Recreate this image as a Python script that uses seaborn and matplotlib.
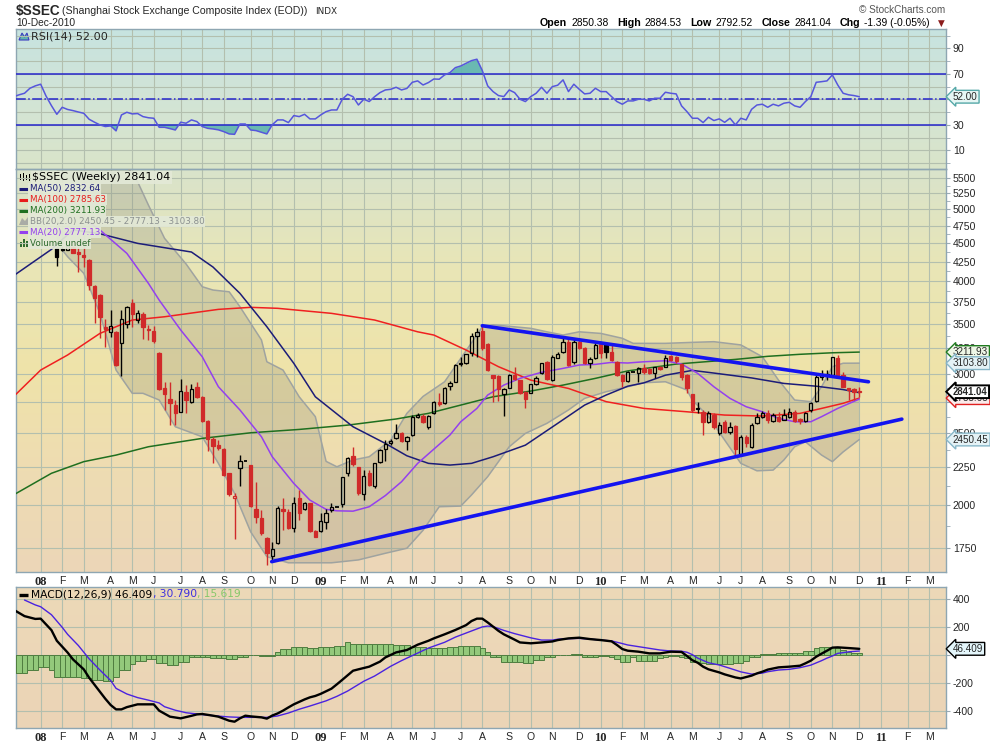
import numpy as np
import pandas as pd
import matplotlib
matplotlib.use("Agg")
import matplotlib.pyplot as plt
import matplotlib.ticker as mticker
from matplotlib.colors import LinearSegmentedColormap
from matplotlib.patches import Polygon, Rectangle
from matplotlib.lines import Line2D
from matplotlib.offsetbox import TextArea, HPacker, AnnotationBbox
import seaborn as sns

sns.set_style("white")
plt.rcParams["font.family"] = ["DejaVu Sans"]

# ------------------------------------------------------------------ data
WEEK0 = pd.Timestamp("2008-01-04")          # week number 0 = week ending 4-Jan-2008
candle_dates = pd.date_range("2008-02-01", "2010-12-10", freq="W-FRI")

opens = [4428, 4425, 4410, 4442, 4383, 4338, 4271, 3941, 3833, 3469,
         3416, 3423, 3300, 3500, 3744, 3547, 3614, 3452, 3430, 3206,
         2871, 2777, 2726, 2671, 2836, 2755, 2886, 2792, 2597, 2453,
         2408, 2378, 2207, 2045, 2241, 2293, 2264, 1975, 1919, 1804,
         1711, 1780, 1975, 1955, 1862, 2045, 1975, 2011, 1846, 1846,
         1896, 1969, 1990, 2005, 2207, 2328, 2248, 2067, 2207, 2120,
         2283, 2378, 2422, 2463, 2497, 2440, 2483, 2630, 2637, 2544,
         2657, 2749, 2740, 2894, 2930, 3093, 3102, 3199, 3377, 3431,
         3290, 2992, 2983, 2817, 2876, 2992, 2945, 2840, 2834, 2910,
         3008, 3118, 2945, 3157, 3208, 3318, 3111, 3318, 3249, 3102,
         3152, 3293, 3290, 3215, 3119, 2994, 2935, 3018, 3013, 3054,
         3045, 3007, 3070, 3070, 3170, 3165, 3096, 2992, 2820, 2700,
         2670, 2589, 2643, 2500, 2589, 2510, 2553, 2346, 2472, 2395,
         2576, 2629, 2662, 2597, 2629, 2605, 2629, 2670, 2607, 2597,
         2684, 2757, 2976, 2990, 2992, 3155, 2992, 2870, 2862, 2850.38]
highs = [4440, 4440, 4480, 4450, 4451, 4451, 4280, 3950, 3840, 3554,
         3658, 3430, 3658, 3700, 3786, 3658, 3632, 3493, 3477, 3210,
         2931, 2931, 2769, 2955, 2901, 2910, 2925, 2800, 2600, 2473,
         2445, 2385, 2210, 2075, 2333, 2293, 2264, 2146, 1969, 1810,
         1785, 1993, 2045, 1975, 2051, 2094, 2020, 2015, 1850, 1950,
         1974, 2013, 1990, 2185, 2320, 2397, 2250, 2230, 2230, 2280,
         2381, 2450, 2455, 2574, 2505, 2480, 2641, 2660, 2655, 2640,
         2760, 2826, 2880, 2940, 3095, 3166, 3195, 3404, 3457, 3478,
         3300, 2995, 2990, 2870, 3000, 3070, 2950, 2845, 2910, 2980,
         3110, 3125, 3180, 3210, 3352, 3352, 3344, 3335, 3265, 3160,
         3300, 3310, 3300, 3282, 3125, 3000, 3025, 3018, 3070, 3100,
         3060, 3070, 3080, 3180, 3180, 3175, 3100, 3000, 2825, 2750,
         2684, 2675, 2656, 2586, 2602, 2586, 2560, 2485, 2485, 2575,
         2656, 2678, 2684, 2656, 2670, 2690, 2698, 2684, 2616, 2670,
         2755, 2992, 3040, 3040, 3165, 3186, 3023, 2872, 2870, 2884.53]
lows = [4197, 4395, 4400, 4360, 4120, 4184, 3893, 3511, 3351, 3266,
        3369, 3080, 2986, 3457, 3475, 3511, 3344, 3334, 3300, 2855,
        2684, 2562, 2562, 2665, 2657, 2741, 2790, 2585, 2366, 2280,
        2370, 2190, 2056, 1802, 2120, 2293, 1990, 1891, 1823, 1664,
        1679, 1775, 1852, 1860, 1839, 1910, 1970, 1840, 1810, 1842,
        1857, 1955, 1990, 1990, 2190, 2260, 2063, 2035, 2120, 2110,
        2280, 2295, 2410, 2455, 2430, 2371, 2480, 2620, 2575, 2530,
        2650, 2720, 2735, 2860, 2925, 3080, 3095, 3170, 3166, 3232,
        3030, 2754, 2760, 2639, 2870, 2950, 2820, 2698, 2830, 2900,
        3000, 2950, 2935, 3150, 3200, 3080, 3100, 3240, 3095, 3054,
        3145, 3150, 3150, 3120, 2980, 2886, 2925, 3018, 2930, 3003,
        3000, 2960, 3040, 3065, 3120, 3110, 2946, 2826, 2670, 2656,
        2485, 2580, 2535, 2485, 2500, 2496, 2319, 2334, 2395, 2390,
        2570, 2620, 2576, 2589, 2590, 2600, 2616, 2589, 2570, 2589,
        2670, 2750, 2950, 2950, 2985, 2960, 2880, 2768, 2768, 2792.52]
closes = [4316, 4410, 4460, 4369, 4350, 4307, 3953, 3794, 3576, 3448,
          3487, 3086, 3554, 3689, 3614, 3621, 3466, 3441, 3328, 2865,
          2821, 2740, 2662, 2851, 2769, 2863, 2798, 2594, 2451, 2403,
          2388, 2195, 2067, 2060, 2293, 2293, 1995, 1925, 1833, 1727,
          1745, 1985, 1965, 1866, 2015, 1950, 2013, 1846, 1813, 1904,
          1950, 1990, 1990, 2180, 2316, 2268, 2078, 2192, 2128, 2276,
          2371, 2415, 2440, 2504, 2440, 2470, 2624, 2646, 2584, 2635,
          2749, 2732, 2876, 2921, 3086, 3108, 3189, 3380, 3414, 3256,
          3038, 2961, 2864, 2868, 2992, 2955, 2826, 2776, 2906, 2960,
          3102, 2955, 3166, 3189, 3311, 3086, 3318, 3249, 3102, 3141,
          3283, 3205, 3215, 3130, 2994, 2935, 3018, 3018, 3054, 3023,
          3010, 3063, 3044, 3158, 3130, 3128, 2977, 2870, 2685, 2690,
          2589, 2656, 2548, 2566, 2510, 2548, 2383, 2466, 2424, 2566,
          2629, 2656, 2602, 2643, 2597, 2640, 2670, 2594, 2592, 2662,
          2746, 2976, 2992, 3005, 3159, 2985, 2886, 2854, 2842.43, 2841.04]

# moving averages / Bollinger bands: (week number, value)
ma20_wk = [10, 12, 17, 21, 23, 27, 31, 34, 38, 42, 44, 48, 51, 54, 56, 59, 62, 65, 68, 71,
           77, 79, 82, 84, 87, 90, 94, 98, 101, 104, 107, 110, 113, 117, 120, 123, 126, 129,
           132, 135, 138, 141, 144, 146, 149, 153]
ma20 = [4800, 4687, 4360, 3974, 3773, 3439, 3166, 2885, 2685, 2471, 2323, 2139, 2031, 1974,
        1965, 1963, 1990, 2060, 2150, 2276, 2485, 2589, 2698, 2812, 2900, 2961, 3017, 3054,
        3086, 3092, 3111, 3105, 3117, 3127, 3095, 3007, 2885, 2783, 2712, 2670, 2616, 2589,
        2589, 2630, 2698, 2777.13]
ma50_wk = [-4, 3, 7, 12, 19, 29, 33, 38, 43, 48, 52, 59, 65, 69, 73, 77, 81, 85, 91, 97,
           102, 106, 110, 113, 117, 122, 126, 133, 139, 145, 150, 153]
ma50 = [4070, 4414, 4690, 4633, 4497, 4378, 4179, 3852, 3474, 3102, 2797, 2549, 2421, 2330,
        2276, 2264, 2276, 2323, 2408, 2576, 2726, 2812, 2890, 2920, 2990, 3035, 3010, 2965,
        2915, 2890, 2860, 2832.64]
ma100_wk = [-4, 1, 6, 12, 18, 24, 34, 40, 45, 55, 63, 71, 74, 80, 86, 92, 99, 106, 113, 121,
            128, 135, 142, 146, 150, 153]
ma100 = [2800, 3038, 3183, 3403, 3547, 3583, 3666, 3689, 3678, 3621, 3547, 3420, 3386, 3232,
         3070, 2945, 2870, 2755, 2698, 2670, 2643, 2635, 2657, 2698, 2741, 2785.63]
ma200_wk = [-4, 3, 9, 15, 21, 31, 40, 49, 58, 67, 73, 79, 85, 92, 98, 104, 110, 119, 130, 136,
            142, 148, 153]
ma200 = [2065, 2207, 2288, 2335, 2396, 2459, 2502, 2528, 2562, 2611, 2657, 2726, 2797, 2847,
         2900, 2961, 3030, 3095, 3140, 3170, 3190, 3205, 3211.93]
bb_up_wk = [4, 15, 19, 21, 24, 28, 31, 33, 36, 38, 42, 43, 46, 49, 52, 54, 56, 59, 62, 66,
            69, 72, 76, 79, 82, 83, 85, 92, 95, 98, 101, 105, 109, 111, 117, 122, 126, 131,
            135, 138, 141, 144, 146, 148, 150, 153]
bb_up = [6000, 6000, 5442, 5064, 4568, 4219, 3932, 3892, 3871, 3696, 3334, 3117, 3038, 2797,
         2630, 2290, 2252, 2300, 2323, 2446, 2657, 2800, 2930, 3150, 3386, 3474, 3495, 3457,
         3420, 3386, 3420, 3403, 3352, 3300, 3300, 3310, 3317, 3284, 3166, 2945, 2769, 2755,
         2885, 3070, 3103, 3103.80]
bb_lo_wk = [4, 6, 9, 12, 15, 18, 20, 23, 26, 31, 34, 37, 40, 43, 47, 55, 60, 65, 69, 72,
            75, 79, 81, 84, 88, 91, 95, 99, 102, 106, 110, 113, 117, 121, 122, 125, 128, 131,
            134, 137, 139, 141, 143, 146, 148, 150, 153]
bb_lo = [4500, 4315, 4099, 3621, 3038, 2827, 2827, 2769, 2549, 2471, 2276, 2074, 1841, 1705,
         1673, 1673, 1688, 1723, 1750, 1850, 1990, 1994, 2064, 2184, 2396, 2497, 2576, 2685,
         2783, 2841, 2885, 2921, 2930, 2856, 2769, 2630, 2446, 2276, 2224, 2229, 2300, 2396,
         2433, 2335, 2288, 2358, 2450.45]

# hand-drawn trend lines (week number, price)
trend_hi_wk = [83, 154.7]
trend_hi = [3485, 2930]
trend_lo_wk = [43.9, 160.9]
trend_lo = [1679, 2610]

# RSI(14), weekly from week -4 to week 153
rsi = [52.0, 53.5, 54.7, 58.6, 60.5, 61.8, 52.5, 45.0, 38.2, 43.7,
       42.0, 41.1, 40.0, 39.0, 34.3, 32.0, 29.9, 28.6, 29.1, 25.2,
       37.7, 39.8, 38.5, 38.8, 36.4, 35.5, 35.1, 28.0, 28.0, 27.0,
       25.9, 32.0, 31.2, 33.8, 32.5, 28.6, 27.2, 26.7, 26.0, 24.6,
       22.8, 22.5, 30.6, 30.6, 25.9, 25.4, 24.1, 22.8, 30.0, 33.8,
       33.8, 31.7, 37.2, 36.4, 38.2, 34.6, 34.6, 37.7, 40.3, 41.6,
       41.6, 50.0, 53.9, 52.0, 45.5, 50.0, 48.2, 52.0, 55.2, 57.3,
       57.8, 59.4, 57.3, 58.5, 63.3, 64.4, 61.2, 63.1, 65.9, 65.7,
       69.1, 70.9, 74.8, 76.1, 78.2, 80.3, 81.4, 72.5, 60.5, 56.0,
       52.9, 52.1, 57.3, 55.2, 50.0, 48.2, 52.1, 54.7, 59.4, 54.7,
       59.9, 61.0, 65.2, 56.0, 61.8, 57.8, 54.2, 54.7, 58.6, 56.0,
       56.0, 52.1, 48.2, 46.1, 48.7, 48.7, 50.0, 50.0, 48.7, 50.8,
       50.8, 55.5, 54.7, 54.2, 44.8, 40.3, 35.1, 35.1, 31.7, 35.9,
       33.3, 34.6, 31.9, 35.1, 29.9, 35.1, 33.8, 42.1, 45.5, 46.1,
       43.7, 46.1, 44.8, 46.9, 47.6, 44.8, 43.7, 48.2, 52.1, 63.3,
       63.8, 64.4, 69.1, 61.2, 54.7, 53.5, 52.9, 52.0]
rsi_first_week = -4

# MACD(12,26,9)
macd_wk = [-4, -2, 0, 1, 3, 4, 6, 7, 9, 10, 11, 13, 14, 15, 16, 17, 19, 22, 23, 25,
           27, 29, 30, 31, 33, 34, 36, 37, 38, 39, 40, 42, 43, 44, 45, 46, 47, 48, 50, 51,
           52, 53, 55, 56, 57, 59, 60, 62, 64, 65, 67, 69, 71, 73, 74, 76, 78, 80, 81, 82,
           83, 84, 86, 87, 89, 90, 92, 94, 96, 97, 99, 101, 103, 105, 107, 108, 109, 110, 112, 114,
           116, 118, 120, 121, 122, 123, 124, 125, 127, 128, 130, 131, 133, 134, 135, 136, 138, 140, 142, 143,
           144, 145, 146, 147, 148, 149, 151, 153]
macd = [325, 280, 260, 262, 180, 104, 20, -29, -100, -160, -210, -310, -355, -386, -386, -370, -350, -350, -395, -438,
        -450, -432, -422, -419, -431, -438, -467, -474, -450, -431, -436, -443, -452, -430, -415, -395, -372, -350, -315, -300,
        -290, -275, -238, -207, -175, -110, -100, -81, -45, -15, 21, 38, 76, 104, 121, 150, 181, 216, 245, 262,
        262, 235, 175, 150, 112, 92, 86, 92, 99, 109, 121, 126, 116, 109, 100, 74, 45, 33, 26, 14,
        14, 26, 24, -5, -35, -53, -81, -100, -122, -136, -158, -165, -145, -129, -117, -102, -86, -81, -74, -57,
        -38, -10, 12, 33, 55, 57, 52, 46.409]
signal_wk = [-2, 0, 1, 3, 5, 6, 8, 10, 12, 14, 15, 17, 19, 21, 23, 24, 26, 28, 31, 33,
             36, 38, 43, 45, 47, 49, 51, 54, 56, 58, 61, 63, 66, 68, 71, 73, 76, 78, 81, 83,
             84, 85, 87, 89, 92, 94, 96, 97, 99, 101, 103, 105, 107, 109, 110, 112, 114, 116, 118, 120,
             121, 122, 123, 125, 127, 129, 131, 133, 135, 136, 138, 140, 142, 144, 146, 147, 148, 149, 150, 151,
             153]
signal = [395, 360, 347, 290, 200, 150, 70, -25, -105, -180, -236, -276, -302, -320, -340, -367, -392, -410, -423, -431,
          -440, -443, -443, -433, -412, -385, -362, -325, -293, -255, -185, -148, -78, -38, 16, 52, 93, 130, 174, 203,
          209, 205, 178, 155, 125, 109, 109, 115, 119, 121, 116, 109, 103, 84, 74, 62, 50, 38, 31, 29,
          22, 5, -20, -53, -69, -93, -118, -134, -127, -117, -105, -100, -88, -70, -38, -20, -5, 14, 19, 25,
          30.79]
hist = [-129, -129, -129, -105, -105, -81, -81, -105, -157, -157,
        -157, -157, -157, -164, -164, -176, -176, -183, -183, -153,
        -105, -105, -65, -38, -38, -29, -29, -57, -57, -69,
        -69, -45, -45, -14, -14, -10, -10, -22, -22, -22,
        -29, -29, -14, -14, 2, 2, -5, -5, -5, 26,
        43, 43, 62, 62, 62, 50, 50, 57, 57, 57,
        67, 67, 97, 81, 81, 81, 81, 81, 81, 81,
        81, 74, 74, 74, 62, 62, 57, 50, 50, 50,
        50, 62, 62, 67, 67, 67, 67, 50, 26, -14,
        -14, -45, -45, -45, -45, -57, -57, -33, -33, -14,
        -14, 2, 2, 2, 10, 10, -14, -14, -14, -5,
        -5, -14, -29, -45, -45, -10, -38, -38, -38, -38,
        -22, -14, -5, -5, -14, -22, -45, -45, -53, -62,
        -62, -62, -62, -62, -53, -53, -38, -14, -14, 10,
        10, 10, 19, 19, 19, 19, 19, 33, 33, 50,
        62, 62, 62, 50, 38, 26, 19, 15.619]
hist_first_week = -4

month_letters = ["J", "F", "M", "A", "M", "J", "J", "A", "S", "O", "N", "D"]

# ------------------------------------------------------------------ layout
W, H = 990, 744
fig = plt.figure(figsize=(W / 100, H / 100), dpi=100)
fig.patch.set_facecolor("white")


def rect(l, t, r, b):
    return [l / W, 1 - b / H, (r - l) / W, (b - t) / H]


def ftext(px, py, s, **kw):
    kw.setdefault("va", "center")
    return fig.text(px / W, 1 - py / H, s, parse_math=False, **kw)


R_RSI = rect(16, 29, 946, 169)
R_MAIN = rect(16, 169, 946, 572)
R_MACD = rect(16, 587, 946, 728)


def background(r, colors):
    a = fig.add_axes(r, zorder=0)
    cmap = LinearSegmentedColormap.from_list("bg", colors)
    a.imshow(np.linspace(0, 1, 256).reshape(-1, 1), cmap=cmap, aspect="auto",
             extent=[0, 1, 0, 1], origin="upper")
    a.set_axis_off()


background(R_RSI, ["#c7e3e0", "#d2e4d6", "#dae5c9"])
background(R_MAIN, ["#d9e3cb", "#e9e6b6", "#efe3a9", "#eedcb2", "#ecd6b8"])
background(R_MACD, ["#edd9b8", "#ebd4b6"])

ax_r = fig.add_axes(R_RSI, zorder=1)
ax_m = fig.add_axes(R_MAIN, zorder=1)
ax_d = fig.add_axes(R_MACD, zorder=1)

GRID = "#b3bfae"
SPINE = "#8ea6b2"
RED = "#d02a2a"
XL = (-3.58, 169.1)

# month ticks: week containing the first Monday of each month
months = pd.date_range("2008-01-01", "2011-03-01", freq="MS")
tick_pos, tick_lab = [], []
for m in months:
    monday = m + pd.Timedelta(days=(7 - m.weekday()) % 7)
    tick_pos.append((monday + pd.Timedelta(days=4) - WEEK0).days / 7)
    tick_lab.append(m.strftime("%y") if m.month == 1 else month_letters[m.month - 1])

for ax in (ax_r, ax_m, ax_d):
    ax.patch.set_alpha(0)
    ax.set_xlim(*XL)
    ax.set_xticks(tick_pos)
    ax.set_axisbelow(True)
    ax.grid(True, axis="x", color=GRID, lw=0.8)
    ax.grid(True, axis="y", which="both", color=GRID, lw=0.8)
    ax.yaxis.tick_right()
    ax.tick_params(axis="y", which="both", direction="out", length=3, color="#9aaab4",
                   labelsize=7.6, pad=2, labelfontfamily="Liberation Sans")
    ax.tick_params(axis="x", length=0, pad=3.2, labelsize=7.6)
    for s in ax.spines.values():
        s.set_color(SPINE)
        s.set_linewidth(1)

ax_r.tick_params(axis="x", labelbottom=False)
for ax in (ax_m, ax_d):
    ax.set_xticklabels(tick_lab)
    for t, lab in zip(ax.get_xticklabels(), tick_lab):
        if lab.isdigit():
            t.set_fontfamily("Liberation Serif")
            t.set_fontweight("bold")
            t.set_fontsize(9)
        else:
            t.set_fontfamily("Liberation Sans")


def hide_label(values):
    return mticker.FuncFormatter(lambda v, p: "" if any(abs(v - h) < 1e-6 for h in values) else f"{v:.0f}")


# ------------------------------------------------------------------ RSI panel
rsi_x = np.arange(rsi_first_week, rsi_first_week + len(rsi))
rsi_v = np.asarray(rsi, dtype=float)
ax_r.fill_between(rsi_x, rsi_v, 30, where=rsi_v < 30, interpolate=True,
                  color="#5fb5ae", alpha=0.9, lw=0, zorder=2)
ax_r.fill_between(rsi_x, rsi_v, 70, where=rsi_v > 70, interpolate=True,
                  color="#5fb5ae", alpha=0.9, lw=0, zorder=2)
for lvl, ls in ((70, "-"), (30, "-"), (50, "-.")):
    ax_r.axhline(lvl, color="#2626cc", lw=1.1, ls=ls, zorder=3)
sns.lineplot(x=rsi_x, y=rsi_v, ax=ax_r, color="#5656dc", lw=1.1, zorder=4, estimator=None)
ax_r.set_ylim(-4.7, 105.1)
ax_r.set_yticks([10, 30, 50, 70, 90])
ax_r.yaxis.set_major_formatter(hide_label([50]))
ax_r.set_yticks(np.arange(0, 101, 10), minor=True)
ax_r.yaxis.set_minor_formatter(mticker.NullFormatter())

# ------------------------------------------------------------------ price panel
ax_m.set_yscale("log")
band = list(zip(bb_up_wk, bb_up)) + list(zip(bb_lo_wk[::-1], bb_lo[::-1]))
ax_m.add_patch(Polygon(band, closed=True, fc="#8c8a78", alpha=0.26, ec="none", zorder=2))
sns.lineplot(x=bb_up_wk, y=bb_up, ax=ax_m, color="#9fa3a0", lw=1.1, zorder=3, estimator=None)
sns.lineplot(x=bb_lo_wk, y=bb_lo, ax=ax_m, color="#9fa3a0", lw=1.1, zorder=3, estimator=None)
sns.lineplot(x=ma200_wk, y=ma200, ax=ax_m, color="#1f6f1f", lw=1.1, zorder=4, estimator=None)
sns.lineplot(x=ma100_wk, y=ma100, ax=ax_m, color="#f02020", lw=1.1, zorder=4, estimator=None)
sns.lineplot(x=ma50_wk, y=ma50, ax=ax_m, color="#1c1c78", lw=1.1, zorder=4, estimator=None)
sns.lineplot(x=ma20_wk, y=ma20, ax=ax_m, color="#9440ee", lw=1.1, zorder=4, estimator=None)

cx = np.array([(d - WEEK0).days / 7 for d in candle_dates])
O, Hh, L, C = (np.asarray(a, dtype=float) for a in (opens, highs, lows, closes))
prev = np.r_[C[0], C[:-1]]
col = np.where(C < prev, RED, "black")
top, bot = np.maximum(O, C), np.minimum(O, C)
ax_m.vlines(cx, top, Hh, colors=col, lw=1, zorder=5)
ax_m.vlines(cx, L, bot, colors=col, lw=1, zorder=5)
flat = np.isclose(O, C)
body = ~flat
face = np.where(C > O, "none", col)
ax_m.bar(cx[body], (top - bot)[body], bottom=bot[body], width=0.62,
         color=list(face[body]), edgecolor=list(col[body]), lw=0.9, zorder=6)
ax_m.hlines(C[flat], cx[flat] - 0.33, cx[flat] + 0.33, colors=list(col[flat]), lw=1.3, zorder=6)

sns.lineplot(x=trend_hi_wk, y=trend_hi, ax=ax_m, color="#1414f0", lw=2.6, zorder=7, estimator=None)
sns.lineplot(x=trend_lo_wk, y=trend_lo, ax=ax_m, color="#1414f0", lw=2.6, zorder=7, estimator=None)

ax_m.set_ylim(1626, 5661)
yt = [1750, 2000, 2250, 2500, 2750, 3000, 3250, 3500, 3750, 4000, 4250, 4500, 4750, 5000, 5250, 5500]
ax_m.yaxis.set_major_locator(mticker.FixedLocator(yt))
ax_m.yaxis.set_major_formatter(hide_label([2750]))
ax_m.yaxis.set_minor_locator(mticker.FixedLocator([v + 125 for v in yt[:-1]]))
ax_m.yaxis.set_minor_formatter(mticker.NullFormatter())
ax_m.grid(False, which="minor")
ax_m.grid(True, axis="y", which="major", color=GRID, lw=0.8)

# ------------------------------------------------------------------ MACD panel
hx = np.arange(hist_first_week, hist_first_week + len(hist))
ax_d.bar(hx, hist, width=1.0, color="#93c97b", edgecolor="#4f7d40", lw=0.7, zorder=3)
sns.lineplot(x=signal_wk, y=signal, ax=ax_d, color="#4a22e0", lw=1.0, zorder=4, estimator=None)
sns.lineplot(x=macd_wk, y=macd, ax=ax_d, color="black", lw=1.7, zorder=5, estimator=None)
ax_d.set_ylim(-519, 488)
ax_d.set_yticks([-400, -200, 0, 200, 400])
ax_d.yaxis.set_major_formatter(hide_label([0]))

for ax in (ax_r, ax_m, ax_d):
    ax.set_xlabel("")
    ax.set_ylabel("")
    ax.set_xlim(*XL)


# ------------------------------------------------------------------ value tags
def tag(ax, y, s, ec, fc, bold=False, z=10, lw=1.0, size=7.1):
    ax.annotate(s, xy=(1, y), xycoords=ax.get_yaxis_transform(), xytext=(5.0, 0),
                textcoords="offset points", ha="left", va="center", fontsize=size,
                family="Liberation Sans", fontweight="bold" if bold else "normal",
                bbox=dict(boxstyle="larrow,pad=0.14", fc=fc, ec=ec, lw=lw),
                zorder=z, annotation_clip=False)


tag(ax_r, rsi[-1], f"{rsi[-1]:.2f}", "#55a8a8", "#e6f6f4")
tag(ax_m, ma200[-1], f"{ma200[-1]:.2f}", "#1f7a1f", "#eef6e6")
tag(ax_m, bb_up[-1], f"{bb_up[-1]:.2f}", "#86b6c8", "#e4f2f6")
tag(ax_m, ma100[-1], f"{ma100[-1]:.2f}", "#e02020", "#fbeaea", z=10)
tag(ax_m, closes[-1], f"{closes[-1]:.2f}", "black", "white", bold=True, z=11, lw=1.4, size=6.9)
tag(ax_m, bb_lo[-1], f"{bb_lo[-1]:.2f}", "#86b6c8", "#e4f2f6")
tag(ax_d, macd[-1], f"{macd[-1]:.3f}", "black", "#e4f6fb")

# ------------------------------------------------------------------ header texts
ftext(16, 10.5, "$SSEC", size=9.8, weight="bold", family="Liberation Sans")
ftext(62, 11, "(Shanghai Stock Exchange Composite Index (EOD))", size=7.6, family="Liberation Sans")
ftext(315, 11, "INDX", size=6.4)
ftext(16, 23.5, "10-Dec-2010", size=7.4, family="Liberation Sans")
ftext(945, 10, "\u00a9 StockCharts.com", size=7.2, color="#555555", ha="right", family="Liberation Sans")


def ta(s, bold=False, color="black", size=7.7, family="Liberation Sans"):
    return TextArea(s, textprops=dict(fontsize=size, fontweight="bold" if bold else "normal",
                                      color=color, family=family))


groups = []
for lab, val in (("Open", "2850.38"), ("High", "2884.53"), ("Low", "2792.52"),
                 ("Close", "2841.04"), ("Chg", "-1.39 (-0.05%)")):
    groups.append(HPacker(children=[ta(lab, True), ta(val, size=7.4)], align="baseline", pad=0, sep=3))
groups.append(ta("\u25bc", color="#8b1c1c", size=6.3, family="DejaVu Sans"))
hdr = HPacker(children=groups, align="baseline", pad=0, sep=6)
fig.add_artist(AnnotationBbox(hdr, (945 / W, 1 - 23 / H), xycoords="figure fraction",
                              box_alignment=(1, 0.5), frameon=False, pad=0))

# ------------------------------------------------------------------ panel legends
LEG_BG = dict(boxstyle="square,pad=0.12", fc="#e3e9d7", ec="none", alpha=0.92)


def fig_line(x0, x1, y, color, lw=2.2):
    fig.add_artist(Line2D([x0 / W, x1 / W], [1 - y / H, 1 - y / H], color=color, lw=lw,
                          transform=fig.transFigure, solid_capstyle="butt"))


def fig_rect(x, y, w, h, color):
    fig.add_artist(Rectangle((x / W, 1 - (y + h) / H), w / W, h / H, color=color,
                             transform=fig.transFigure, lw=0))


# RSI legend
fig.add_artist(Polygon([(19 / W, 1 - 40 / H), (22 / W, 1 - 33 / H), (24.5 / W, 1 - 37 / H),
                        (27 / W, 1 - 33 / H), (29 / W, 1 - 40 / H)], closed=True,
                       transform=fig.transFigure, fc="#5fb5ae", ec="#3c3cc0", lw=0.8))
ftext(31.5, 36.5, "RSI(14) 52.00", size=8.1)

# price legend
rows = [("$SSEC (Weekly) 2841.04", "black", 177.5, 8.0),
        ("MA(50) 2832.64", "#1c1c78", 189.0, 6.3),
        ("MA(100) 2785.63", "#e81c1c", 199.8, 6.3),
        ("MA(200) 3211.93", "#1f6f1f", 210.6, 6.3),
        ("BB(20,2.0) 2450.45 - 2777.13 - 3103.80", "#8c9190", 221.5, 6.3),
        ("MA(20) 2777.13", "#9440ee", 232.4, 6.3),
        ("Volume undef", "#2e6b2e", 243.2, 6.3)]
for i, (s, c, yy, sz) in enumerate(rows):
    x0 = 32 if i == 0 else 29.5
    ftext(x0, yy, s, size=sz, color=c, bbox=LEG_BG, zorder=20)
# row icons
for xx, y0, h in ((19.5, 174, 6), (22.5, 173, 8), (25.5, 175, 5), (28.5, 174, 7)):
    fig_rect(xx, y0, 1.8, h, "black")
for c, yy in (("#1c1c78", 189.0), ("#e81c1c", 199.8), ("#1f6f1f", 210.6), ("#9440ee", 232.4)):
    fig_line(19, 28, yy, c)
fig.add_artist(Polygon([(19 / W, 1 - 225 / H), (22 / W, 1 - 218 / H), (25 / W, 1 - 221 / H),
                        (28 / W, 1 - 217 / H), (28 / W, 1 - 225 / H)], closed=True,
                       transform=fig.transFigure, fc="#a9aca6", ec="none"))
for xx, h in ((19.5, 5), (22.5, 8), (25.5, 6)):
    fig_rect(xx, 247 - h, 2, h, "#2e6b2e")

# MACD legend
fig_line(19, 28, 594.5, "black", lw=2.4)
t1 = ftext(31.5, 594.5, "MACD(12,26,9) 46.409", size=7.7, color="black")
t2 = ax_d.annotate(", 30.790", xy=(1, 0), xycoords=t1, va="bottom", ha="left",
                   fontsize=7.7, color="#3a2ee0", annotation_clip=False)
ax_d.annotate(", 15.619", xy=(1, 0), xycoords=t2, va="bottom", ha="left",
              fontsize=7.7, color="#86c86a", annotation_clip=False)

fig.savefig("out.png", dpi=100, facecolor="white")
